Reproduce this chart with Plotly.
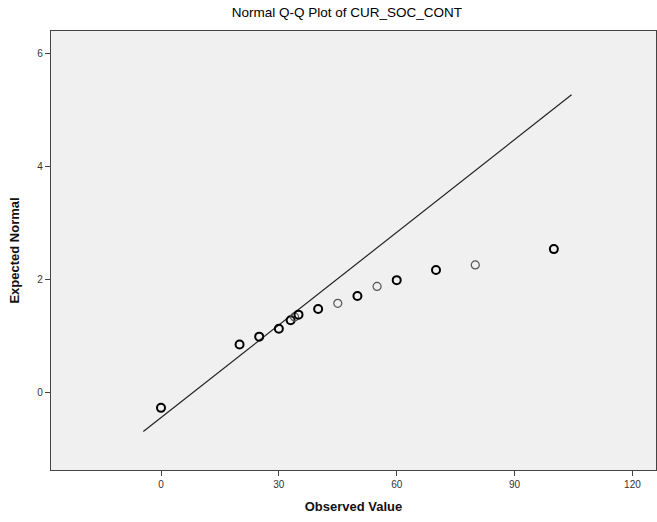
import plotly.graph_objects as go

# Observed values and expected normal quantiles
observed = [0, 20, 25, 30, 33, 34, 35, 40, 45, 50, 55, 60, 70, 80, 100]
expected = [-0.28, 0.84, 0.98, 1.12, 1.27, 1.33, 1.37, 1.47, 1.57, 1.70, 1.87, 1.98, 2.16, 2.25, 2.53]
repeated = [True, True, True, True, True, False, True, True, False, True, False, True, True, False, True]

# Reference line endpoints
line_x = [-4.5, 104.5]
line_y = [-0.70, 5.26]

x_ticks = [0, 30, 60, 90, 120]
y_ticks = [0, 2, 4, 6]

fig = go.Figure()
fig.add_trace(go.Scatter(
    x=line_x, y=line_y, mode="lines",
    line=dict(color="#222222", width=1.2), hoverinfo="skip", showlegend=False))
fig.add_trace(go.Scatter(
    x=observed, y=expected, mode="markers",
    marker=dict(symbol="circle-open", size=8,
                color=["#000000" if r else "#555555" for r in repeated],
                line=dict(width=[2.0 if r else 1.2 for r in repeated])),
    showlegend=False))

axis_common = dict(showgrid=False, zeroline=False, showline=True, mirror=True,
                   linecolor="#444444", linewidth=1.3, ticks="outside", ticklen=5,
                   tickcolor="#444444", tickfont=dict(family="Arial", size=10, color="#333333"))

fig.update_layout(
    width=657, height=522,
    paper_bgcolor="white", plot_bgcolor="#f0f0f0",
    margin=dict(l=51, r=1, t=31, b=52),
    title=dict(text="Normal Q-Q Plot of CUR_SOC_CONT", x=0.528, xanchor="center",
               y=0.977, yanchor="middle",
               font=dict(family="Arial", size=13.5, color="#000000")),
    xaxis=dict(range=[-28, 126], tickvals=x_ticks,
               title=dict(text="<b>Observed Value</b>", standoff=12,
                          font=dict(family="Arial", size=13, color="#111111")),
               **axis_common),
    yaxis=dict(range=[-1.38, 6.39], tickvals=y_ticks,
               title=dict(text="<b>Expected Normal</b>", standoff=14,
                          font=dict(family="Arial", size=13, color="#111111")),
               **axis_common),
)

fig.write_html("out.html", config={"displayModeBar": False},
               post_script="document.body.style.margin='0';document.body.style.overflow='hidden';")
